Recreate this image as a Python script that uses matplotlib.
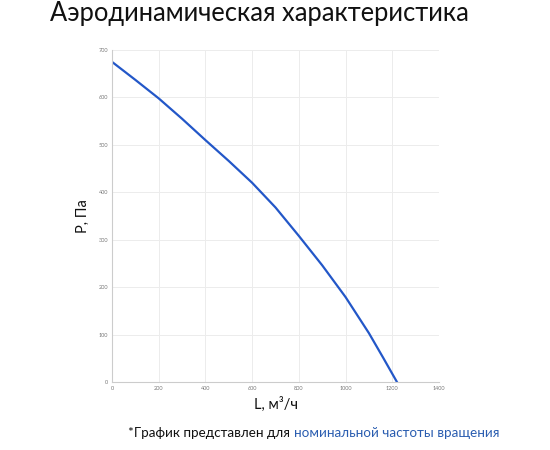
import matplotlib
matplotlib.use("Agg")
import matplotlib.pyplot as plt

L_values = [0, 100, 200, 300, 400, 500, 600, 700, 800, 900, 1000, 1100, 1160, 1220]
P_values = [675, 637, 598, 555, 510, 466, 420, 368, 308, 246, 179, 103, 52, 0]
x_ticks = [0, 200, 400, 600, 800, 1000, 1200, 1400]
y_ticks = [0, 100, 200, 300, 400, 500, 600, 700]

title = "Аэродинамическая характеристика"
x_label = "L, м³/ч"
y_label = "Р, Па"
note_black = "*График представлен для "
note_blue = "номинальной частоты вращения"

fam = ["Lato", "DejaVu Sans"]
fig = plt.figure(figsize=(5.5, 4.5), dpi=100)
ax = fig.add_axes([112/550, 68/450, 327/550, 332/450])

ax.plot(L_values, P_values, color="#2357c8", lw=1.6)
ax.set_xlim(0, 1400)
ax.set_ylim(0, 700)
ax.set_xticks(x_ticks)
ax.set_yticks(y_ticks)
ax.tick_params(labelsize=4, colors="#777777", length=0, pad=3)
for lab in ax.get_xticklabels() + ax.get_yticklabels():
    lab.set_family(fam)
ax.grid(True, color="#ececec", lw=0.7)
for s in ["top", "right"]:
    ax.spines[s].set_visible(False)
for s in ["left", "bottom"]:
    ax.spines[s].set_color("#cccccc")
    ax.spines[s].set_linewidth(0.8)

ax.set_xlabel(x_label, fontsize=10.5, family=fam, labelpad=4, color="#111111")
ax.set_ylabel(y_label, fontsize=10.5, family=fam, labelpad=6, color="#111111")

fig.text(259/550, 1 - 13/450, title, ha="center", va="center", fontsize=18.4, family=fam, color="#111111")

t1 = fig.text(128/550, 1 - 433/450, note_black, ha="left", va="center", fontsize=9.7, family=fam, color="#111111")
fig.canvas.draw()
ax.annotate(note_blue, xy=(1, 0.5), xycoords=t1, ha="left", va="center",
            fontsize=9.7, family=fam, color="#2a5db0", annotation_clip=False)

fig.savefig("out.png", dpi=100)
